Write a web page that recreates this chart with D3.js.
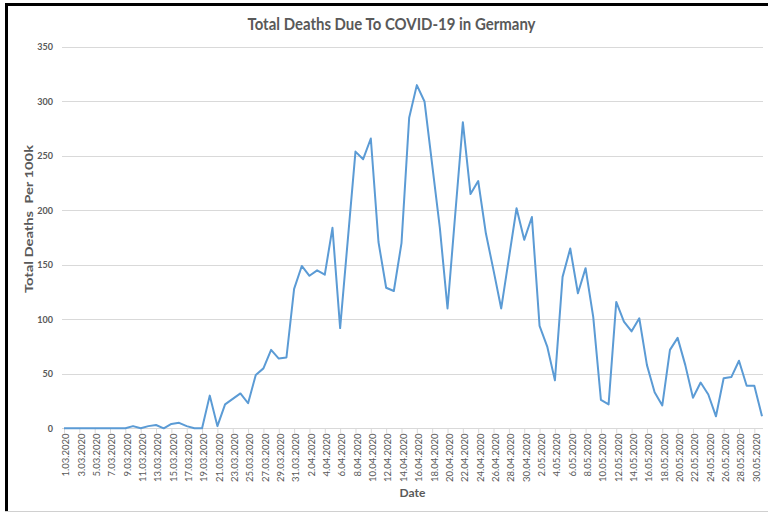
<!DOCTYPE html>
<html>
<head>
<meta charset="utf-8">
<script src="https://cdn.jsdelivr.net/npm/d3@7"></script>
<style>
  html, body { margin: 0; padding: 0; background: #fff; }
  svg { display: block; }
</style>
</head>
<body>
<svg id="chart" width="768" height="514"></svg>
<script>
// ---- data ----
const dates = (function () {
  const out = [];
  for (let d = 1; d <= 31; d++) out.push(d + ".03.2020");
  for (let d = 1; d <= 30; d++) out.push(d + ".04.2020");
  for (let d = 1; d <= 31; d++) out.push(d + ".05.2020");
  return out;
})();

const deaths = [
  0, 0, 0, 0, 0, 0, 0, 0, 0, 2,
  0, 2, 3, 0, 4, 5, 2, 0, 0, 30,
  2, 22, 27, 32, 23, 49, 55, 72, 64, 65,
  128, 149, 140, 145, 141, 184, 92, 173, 254, 247,
  266, 171, 129, 126, 170, 285, 315, 300, 242, 184,
  110, 196, 281, 215, 227, 179, 145, 110, 156, 202,
  173, 194, 94, 75, 44, 139, 165, 124, 147, 102,
  26, 22, 116, 98, 89, 101, 58, 33, 21, 72,
  83, 58, 28, 42, 31, 11, 46, 47, 62, 39,
  39, 11
];

const yTicks = [0, 50, 100, 150, 200, 250, 300, 350];
const xTickLabels = dates.filter((d, i) => i % 2 === 0);

const titleText = "Total Deaths Due To COVID-19 in Germany";
const yTitleText = "Total Deaths  Per 100k";
const xTitleText = "Date";

// ---- drawing ----
const svg = d3.select("#chart");
const grey = "#595959";
const font = "Lato, 'Liberation Sans', sans-serif";

const x = d3.scalePoint().domain(dates).range([64, 762]);
const y = d3.scaleLinear().domain([0, 350]).range([428.3, 47]);

// frame
svg.append("rect").attr("x", 5).attr("y", 3).attr("width", 763).attr("height", 3).attr("fill", "#000");
svg.append("rect").attr("x", 5).attr("y", 3).attr("width", 3).attr("height", 509).attr("fill", "#000");
svg.append("line").attr("x1", 5).attr("x2", 768).attr("y1", 511.5).attr("y2", 511.5)
  .attr("stroke", "#d0d0d0").attr("stroke-width", 1);

// gridlines
svg.append("g").selectAll("line")
  .data(yTicks.filter(t => t > 0))
  .join("line")
  .attr("x1", 62).attr("x2", 763)
  .attr("y1", d => Math.round(y(d)) + 0.5).attr("y2", d => Math.round(y(d)) + 0.5)
  .attr("stroke", "#d9d9d9").attr("stroke-width", 1);

// y axis labels
const yAxis = d3.axisLeft(y).tickValues(yTicks).tickSize(0).tickPadding(0);
const gy = svg.append("g").attr("transform", "translate(53,0)").call(yAxis);
gy.select(".domain").remove();
gy.selectAll("text")
  .attr("fill", grey)
  .style("font-family", font)
  .style("font-size", "9px")
  .style("font-weight", "bold");

// x axis
const xAxis = d3.axisBottom(x).tickValues(xTickLabels).tickSize(5).tickPadding(0);
const gx = svg.append("g").attr("transform", "translate(0," + (Math.round(y(0)) + 0.5) + ")").call(xAxis);
gx.select(".domain").attr("stroke", "#d9d9d9").attr("d", "M62,0H763");
gx.selectAll(".tick line").attr("stroke", "#d9d9d9");
gx.selectAll(".tick text")
  .attr("fill", grey)
  .style("font-family", font)
  .style("font-size", "9.5px")
  .attr("text-anchor", "end")
  .attr("transform", "translate(1.5,5) rotate(-90)")
  .attr("x", 0).attr("y", 0).attr("dy", "0.35em");

// line
const line = d3.line()
  .x((d, i) => x(dates[i]))
  .y(d => y(d));
svg.append("path")
  .datum(deaths)
  .attr("d", line)
  .attr("fill", "none")
  .attr("stroke", "#5B9BD5")
  .attr("stroke-width", 2)
  .attr("stroke-linejoin", "round");

// titles
svg.append("text")
  .attr("x", 391.5).attr("y", 30)
  .attr("text-anchor", "middle")
  .attr("fill", grey)
  .style("font-family", font)
  .style("font-size", "17px")
  .style("font-weight", "bold")
  .attr("textLength", 288).attr("lengthAdjust", "spacingAndGlyphs")
  .text(titleText);

svg.append("text")
  .attr("transform", "translate(33,219) rotate(-90)")
  .attr("text-anchor", "middle")
  .attr("fill", grey)
  .style("font-family", font)
  .style("font-size", "12px")
  .style("font-weight", "bold")
  .style("white-space", "pre")
  .attr("textLength", 148).attr("lengthAdjust", "spacingAndGlyphs")
  .text(yTitleText);

svg.append("text")
  .attr("x", 412.5).attr("y", 497)
  .attr("text-anchor", "middle")
  .attr("fill", grey)
  .style("font-family", font)
  .style("font-size", "12px")
  .style("font-weight", "bold")
  .text(xTitleText);
</script>
</body>
</html>
